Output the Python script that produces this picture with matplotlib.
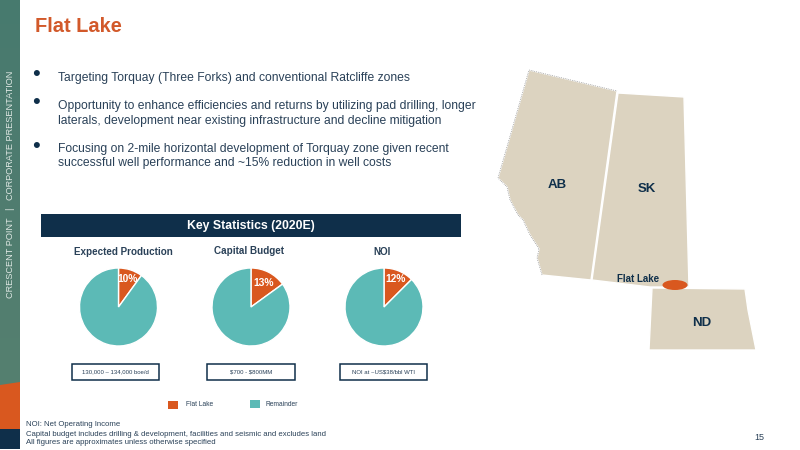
#!/usr/bin/env python3

import numpy as np
import matplotlib
matplotlib.use('Agg')
import matplotlib.pyplot as plt
from matplotlib.colors import LinearSegmentedColormap
from matplotlib.patches import Rectangle, Polygon, Ellipse

plt.rcParams['font.family'] = ['Liberation Sans', 'DejaVu Sans']

NAVY = '#0f2f4a'
TEXT = '#2a4158'
ORANGE = '#d9581f'
TEAL = '#5cbab6'
LAND = '#dcd3c0'

pie_titles = ['Expected Production', 'Capital Budget', 'NOI']
# wedge sizes as drawn in the picture, the printed labels differ slightly
flat_lake_share = [10, 15, 12.5]
remainder_share = [90, 85, 87.5]
pie_labels = ['10%', '13%', '12%']
box_labels = [r'130,000 – 134,000 boe/d', r'\$700 - \$800MM', r'NOI at ~US\$38/bbl WTI']
legend_labels = ['Flat Lake', 'Remainder']
bullets = [
    'Targeting Torquay (Three Forks) and conventional Ratcliffe zones',
    'Opportunity to enhance efficiencies and returns by utilizing pad drilling, longer\n'
    'laterals, development near existing infrastructure and decline mitigation',
    'Focusing on 2-mile horizontal development of Torquay zone given recent\n'
    'successful well performance and ~15% reduction in well costs',
]
footnotes = [
    'NOI: Net Operating Income',
    'Capital budget includes drilling & development, facilities and seismic and excludes land',
    'All figures are approximates unless otherwise specified',
]

# map outlines, traced in pixels of the slide
alberta = [(529, 70), (617, 91), (591, 280), (542, 275), (537, 258), (539, 249), (530, 235),
           (523, 220), (518, 215), (510, 200), (507, 187), (498, 178)]
saskatchewan = [(618, 93), (684, 97), (689, 287), (650, 287), (592, 280)]
north_dakota = [(652, 288), (745, 289), (748, 310), (756, 350), (649, 350)]

fig = plt.figure(figsize=(8, 4.5), dpi=100)
ax = fig.add_axes([0, 0, 1, 1])
ax.set_xlim(0, 800)
ax.set_ylim(450, 0)
ax.axis('off')

# side band
band_cmap = LinearSegmentedColormap.from_list('band', ['#477a6e', '#4f7c70', '#55806f'])
ax.imshow(np.linspace(0, 1, 64).reshape(-1, 1), cmap=band_cmap, extent=(0, 20, 386, 0),
          aspect='auto', zorder=1)
ax.set_xlim(0, 800)
ax.set_ylim(450, 0)
ax.add_patch(Polygon([(0, 385), (20, 382), (20, 430), (0, 430)], color=ORANGE, lw=0, zorder=2))
ax.add_patch(Rectangle((0, 429), 20, 20, color=NAVY, lw=0, zorder=2))
ax.text(10.5, 184, 'CRESCENT POINT   |   CORPORATE PRESENTATION', rotation=90, color='#dfe8e4',
        fontsize=6.6, ha='center', va='center', zorder=3)

ax.text(35, 26, 'Flat Lake', color='#d2592a', fontsize=14.4, fontweight='bold', va='center')

for y, by, text in zip([78, 113.5, 156], [75, 103, 146], bullets):
    ax.text(36, by, '•', color=NAVY, fontsize=16, ha='center', va='center')
    ax.text(58, y, text, color=TEXT, fontsize=8.78, va='center', linespacing=1.24)

# key statistics
ax.add_patch(Rectangle((41, 214), 420, 23, color=NAVY, lw=0))
ax.text(251, 226, 'Key Statistics (2020E)', color='white', fontsize=8.8, fontweight='bold',
        ha='center', va='center')

pie_x = [118.5, 251, 384]
title_x = [123.5, 249, 382]
title_y = [252, 251, 252]
box_x = [(72, 159), (207, 295), (340, 427)]
label_dist = [0.76, 0.69, 0.77]
pie_r = 39
for i, name in enumerate(pie_titles):
    ax.text(title_x[i], title_y[i], name, color=TEXT, fontsize=7.1, fontweight='bold',
            ha='center', va='center')
    pie_ax = fig.add_axes([(pie_x[i] - pie_r) / 800, 1 - (307 + pie_r) / 450,
                           2 * pie_r / 800, 2 * pie_r / 450])
    wedges, texts = pie_ax.pie(
        [flat_lake_share[i], remainder_share[i]], colors=[ORANGE, TEAL], startangle=90,
        counterclock=False, radius=1.0, labels=[pie_labels[i], ''], labeldistance=label_dist[i],
        wedgeprops={'edgecolor': 'white', 'linewidth': 1.0})
    pie_ax.set_xlim(-1, 1)
    pie_ax.set_ylim(-1, 1)
    texts[0].set(color='white', fontweight='bold', fontsize=7.4, ha='center', va='center')

    x0, x1 = box_x[i]
    ax.add_patch(Rectangle((x0, 364), x1 - x0, 16, fc='white', ec=NAVY, lw=1.1))
    ax.text((x0 + x1) / 2, 372, box_labels[i], color=TEXT, fontsize=4.3, ha='center', va='center')

# legend
for x, color, label, tx, sy, ty in zip([168, 250], [ORANGE, TEAL], legend_labels, [186, 265],
                                       [401, 400], [405, 404]):
    ax.add_patch(Rectangle((x, sy), 10, 8, color=color, lw=0))
    ax.text(tx, ty, label, color=TEXT, fontsize=4.8, va='center')

# footnotes
for y, line in zip([424, 434, 443], footnotes):
    ax.text(26, y, line, color=TEXT, fontsize=5.55, va='center')
ax.text(764, 437, '15', color=TEXT, fontsize=6.5, ha='right', va='center')

# map
for outline in [alberta, saskatchewan, north_dakota]:
    ax.add_patch(Polygon(outline, fc=LAND, ec='white', lw=1.0, zorder=2))
west_edge = alberta[3:] + alberta[:2]
ax.plot([p[0] for p in west_edge], [p[1] for p in west_edge], ls=':', lw=0.5, color='#777777', zorder=3)
ax.add_patch(Ellipse((675, 285), 25, 10, color=ORANGE, lw=0, zorder=3))
map_labels = [('AB', 557.5, 185.5, 9.5), ('SK', 646.5, 189.5, 9.5), ('ND', 701.5, 323.5, 9.5),
              ('Flat Lake', 638, 279, 7)]
for name, x, y, size in map_labels:
    ax.text(x, y, name, color=NAVY, fontsize=size, fontweight='bold', ha='center', va='center', zorder=4)

fig.savefig('out.png', dpi=100)
